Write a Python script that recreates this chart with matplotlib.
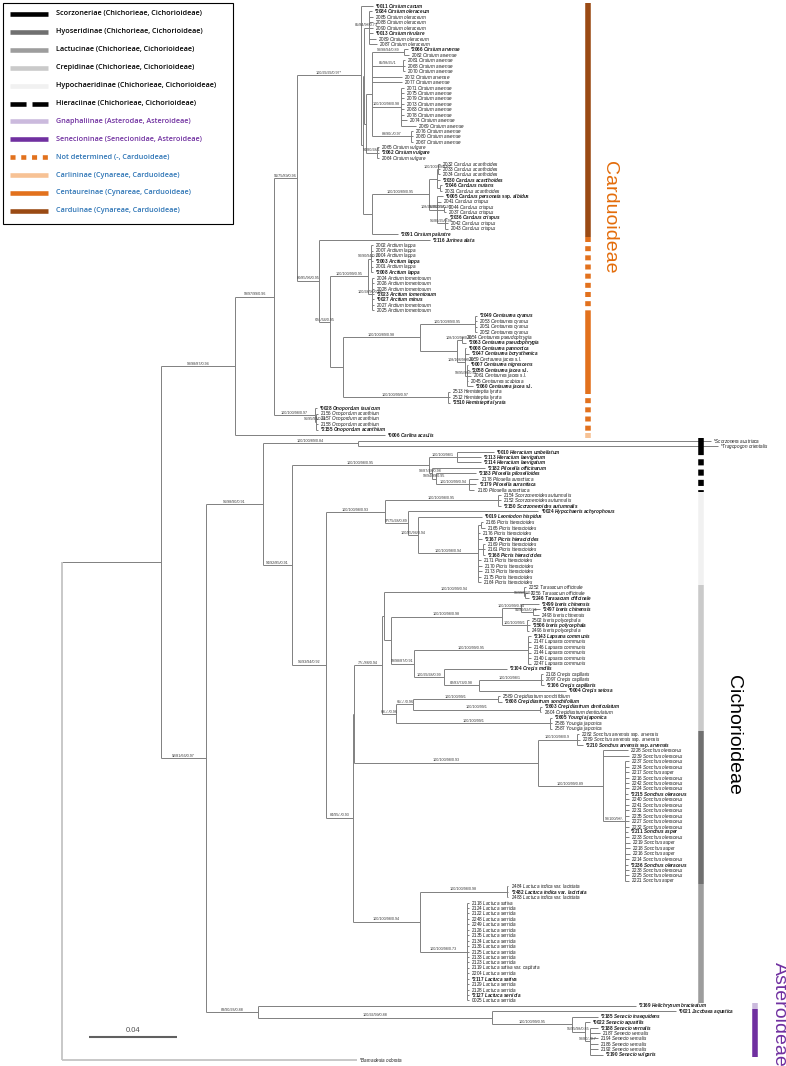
import re
import matplotlib
matplotlib.use("Agg")
import matplotlib.pyplot as plt
from matplotlib.collections import LineCollection
from matplotlib.lines import Line2D
from matplotlib.patches import Rectangle
from matplotlib.transforms import Affine2D, blended_transform_factory

plt.rcParams['font.family'] = ['Liberation Sans', 'DejaVu Sans']
plt.rcParams['mathtext.fontset'] = 'custom'
plt.rcParams['mathtext.rm'] = 'Liberation Sans'
plt.rcParams['mathtext.it'] = 'Liberation Sans:italic'
plt.rcParams['mathtext.bf'] = 'Liberation Sans:bold'
plt.rcParams['mathtext.bfit'] = 'Liberation Sans:italic:bold'

# ---------------------------------------------------------------- data
# branch lengths in substitutions/site, node labels = BS/BS/BS/PP
CARDUOIDEAE = """
(
 (
  (
   ('*0011 Cirsium canum':0.0054,
    (
     (
      ('*2084 Cirsium oleraceum':0.0014,'2085 Cirsium oleraceum':0.0018,'2088 Cirsium oleraceum':0.0018,
       '2090 Cirsium oleraceum':0.0018,'*0013 Cirsium rivulare':0.0018,'2089 Cirsium oleraceum':0.0032,
       '2087 Cirsium oleraceum':0.0036)'85/84/98/0.73':0.0023,
      (
       (
        ('*2066 Cirsium arvense':0.0018,'2082 Cirsium arvense':0.0023)'98/98/94/0.89':0.0145,
        ('2081 Cirsium arvense':0.0009,'2068 Cirsium arvense':0.0009,'2070 Cirsium arvense':0.0009)'85/98/95/1':0.0141,
        '2072 Cirsium arvense':0.0136,
        '2077 Cirsium arvense':0.0136,
        ('2071 Cirsium arvense':0.0014,'2075 Cirsium arvense':0.0014,'2079 Cirsium arvense':0.0014,
         '2073 Cirsium arvense':0.0014,'2083 Cirsium arvense':0.0014,'2078 Cirsium arvense':0.0014,
         '2074 Cirsium arvense':0.0027,'2069 Cirsium arvense':0.0068)'100/100/98/0.98':0.0132,
        ('2076 Cirsium arvense':0.0009,'2080 Cirsium arvense':0.0009,'2067 Cirsium arvense':0.0009)'89/90/-/0.97':0.0177
       ):0.0027,
       ('2065 Cirsium vulgare':0.0009,'*2062 Cirsium vulgare':0.0009,'2064 Cirsium vulgare':0.0009)'94/80/98/1':0.0050
      ):0.0009
     ):0.0005,
     (
      (
       (
        ('2032 Carduus acanthoides':0.0009,'2033 Carduus acanthoides':0.0009,'2034 Carduus acanthoides':0.0009)'100/100/89/0.97':0.0005,
        '*2030 Carduus acanthoides':0.0014,
        ('*2046 Carduus nutans':0.0009,'2031 Carduus acanthoides':0.0009):0.0014
       ):0.0036,
       (
        '*0005 Carduus personata ssp. albidus':0.0027,
        '2041 Carduus crispus':0.0018,
        ('2044 Carduus crispus':0.0009,'2037 Carduus crispus':0.0009)'96/80/95/0.96':0.0032,
        ('*2036 Carduus crispus':0.0009,'2042 Carduus crispus':0.0014,'2043 Carduus crispus':0.0014)'96/80/95/0.98':0.0036
       )'108/99/99/0.97':0.0036
      )'100/100/89/0.95':0.0259,
      '*2091 Cirsium palustre':0.0118
     ):0.0041
    ):0.0009
   )'100/99/99/0.97*':0.0290,
   ('*2116 Jurinea alata':0.0503,
    (
     (
      ('2002 Arctium lappa':0.0009,'2007 Arctium lappa':0.0009,'2004 Arctium lappa':0.0009,
       '*2003 Arctium lappa':0.0009,'2001 Arctium lappa':0.0009,'*2008 Arctium lappa':0.0009)'90/90/94/0.73':0.0014,
      ('2024 Arctium tomentosum':0.0009,'2026 Arctium tomentosum':0.0009,'2028 Arctium tomentosum':0.0009,
       '*2023 Arctium tomentosum':0.0009,'*0027 Arctium minus':0.0009,'2027 Arctium tomentosum':0.0009,
       '2025 Arctium tomentosum':0.0009)'100/98/96/0.86':0.0018
     )'100/100/99/0.95':0.0172,
     (
      (
       ('*2049 Centaurea cyanus':0.0009,'2053 Centaurea cyanus':0.0009,'2051 Centaurea cyanus':0.0009,
        '2052 Centaurea cyanus':0.0009)'100/100/89/0.95':0.0249,
       (
        ('2054 Centaurea pseudophrygia':0.0005,'*2063 Centaurea pseudophrygia':0.0018)'108/100/98/0.95':0.0023,
        ('*0008 Centaurea pannonica':0.0005,'*2047 Centaurea borysthenica':0.0018,'2059 Centaurea jacea s.l.':0.0002,
         ('*0007 Centaurea nigrescens':0.0005,'*2058 Centaurea jacea s.l.':0.0009,'2061 Centaurea jacea s.l.':0.0018,
          '2045 Centaurea scabiosa':0.0005,'*2060 Centaurea jacea s.l.':0.0027)'99/95/96/0.97':0.0009
        )'108/108/96/0.90':0.0036
       ):0.0168
      )'100/100/89/0.98':0.0349,
      ('2513 Hemisteptia lyrata':0.0009,'2512 Hemisteptia lyrata':0.0009,'*2510 Hemisteptia lyrata':0.0009)'100/100/99/0.97':0.0476
     ):0.0059
    )'62/-/64/0.95':0.0050
   )'80/85/96/0.95':0.0100
  )'91/75/89/0.96':0.0104,
  ('*0028 Onopordum tauricum':0.0009,
   ('2156 Onopordum acanthium':0.0009,'2157 Onopordum acanthium':0.0009,'2158 Onopordum acanthium':0.0009,
    '*2155 Onopordum acanthium':0.0009)'96/95/93/0.98':0.0005
  )'100/100/98/0.97':0.0186
 )'99/97/99/0.96':0.0177,
 '*0006 Carlina acaulis':0.0680
)'98/98/87/0.94':0.0336
"""

CICHORIOIDEAE = """
(
 ('*Scorzonera austriaca':0.1601,'*Tragopogon orientalis':0.1633)'100/100/89/0.84':0.0431,
 (
  (
   ('*0010 Hieracium umbellatum':0.0168,'*2113 Hieracium laevigatum':0.0109,'*2114 Hieracium laevigatum':0.0109)'100/100/98/1':0.0127,
   ('*2182 Pilosella officinarum':0.0240,
    ('*2183 Pilosella piloselloides':0.0180,
     ('2178 Pilosella aurantiaca':0.0041,'*2179 Pilosella aurantiaca':0.0032,'2180 Pilosella aurantiaca':0.0023)'100/100/99/0.94':0.0150
    )'99/94/99/0.95':0.0018
   )'98/87/98/0.98':0.0014
  )'100/100/98/0.95':0.0621,
  (
   (('2154 Scorzoneroides autumnalis':0.0014,'2152 Scorzoneroides autumnalis':0.0014,
     '*2150 Scorzoneroides autumnalis':0.0014)'100/100/98/0.95':0.0512,
    ('*0024 Hypochaeris achyrophorus':0.0590,
     ('*0019 Leontodon hispidus':0.0290,
      (('2166 Picris hieracioides':0.0009,'2165 Picris hieracioides':0.0018):0.0014,
       '2176 Picris hieracioides':0.0009,'*2167 Picris hieracioides':0.0018,
       ('2169 Picris hieracioides':0.0009,'2161 Picris hieracioides':0.0009,'*2168 Picris hieracioides':0.0009):0.0023,
       '2171 Picris hieracioides':0.0014,'2170 Picris hieracioides':0.0018,'2173 Picris hieracioides':0.0018,
       '2175 Picris hieracioides':0.0014,'2164 Picris hieracioides':0.0014)'100/100/98/0.94':0.0272
     )'100/85/94/0.94':0.0045
    )'97/75/98/0.89':0.0104
   )'100/100/98/0.93':0.0268,
   (
    (
     (
      (
       ('2252 Taraxacum officinale':0.0009,
        ('2256 Taraxacum officinale':0.0014,'*2246 Taraxacum officinale':0.0018)'99/99/96/0.9':0.0005
       )'100/100/99/0.94':0.0635,
       (
        (('*2499 Ixeris chinensis':0.0082,
          ('*2497 Ixeris chinensis':0.0032,'2498 Ixeris chinensis':0.0027)'91/90/92/0.94':0.0054)'100/100/99/0.94':0.0086,
         ('2502 Ixeris polycephala':0.0009,'*2506 Ixeris polycephala':0.0014,'2496 Ixeris polycephala':0.0009)'100/100/99/1':0.0113
        )'100/100/98/0.98':0.0503,
        (('*2143 Lapsana communis':0.0014,'2147 Lapsana communis':0.0014,'2146 Lapsana communis':0.0014,
          '2144 Lapsana communis':0.0014,'2140 Lapsana communis':0.0014,'2247 Lapsana communis':0.0014)'100/100/99/0.95':0.0517,
         ('*2104 Crepis mollis':0.0286,
          (('2103 Crepis capillaris':0.0009,'2097 Crepis capillaris':0.0009,'*2106 Crepis capillaris':0.0014)'100/100/98/1':0.0281,
           '*0004 Crepis setosa':0.0395)'82/83/74/0.98':0.0159
         )'100/99/98/0.99':0.0136
        )'99/98/87/0.91':0.0104
       ):0.0032
      ):0.0007,
      (
       (('2589 Crepidiastrum sonchifolium':0.0009,'*2608 Crepidiastrum sonchifolium':0.0018)'100/100/99/1':0.0385,
        ('*2603 Crepidiastrum denticulatum':0.0009,'2604 Crepidiastrum denticulatum':0.0005)'100/100/99/1':0.0576
       )'65/-/-/0.96':0.0077,
       ('*2605 Youngia japonica':0.0009,'2586 Youngia japonica':0.0009,'2587 Youngia japonica':0.0009)'100/100/99/1':0.0698
      )'69/-/-/0.96':0.0064
     )'77/-/88/0.94':0.0127,
     (
      ('2282 Sonchus arvensis ssp. arvensis':0.0009,'2289 Sonchus arvensis ssp. arvensis':0.0014,
       '*2210 Sonchus arvensis ssp. arvensis':0.0027)'100/100/98/0.9':0.0177,
      ('2228 Sonchus oleraceus':0.0113,'2239 Sonchus oleraceus':0.0118,
       ('2237 Sonchus oleraceus':0.0018,
        '2234 Sonchus oleraceus':0.0018,'2217 Sonchus asper':0.0018,'2216 Sonchus oleraceus':0.0018,
        '2242 Sonchus oleraceus':0.0018,'2224 Sonchus oleraceus':0.0018,'*2215 Sonchus oleraceus':0.0014,
        '2240 Sonchus oleraceus':0.0018,'2241 Sonchus oleraceus':0.0018,'2231 Sonchus oleraceus':0.0018,
        '2235 Sonchus oleraceus':0.0018,'2227 Sonchus oleraceus':0.0018,'2232 Sonchus oleraceus':0.0018,
        '*2211 Sonchus asper':0.0014,'2233 Sonchus oleraceus':0.0018,
        '2219 Sonchus asper':0.0023,'2218 Sonchus asper':0.0023,'2216 Sonchus asper':0.0023,
        '2214 Sonchus oleraceus':0.0018,'*2236 Sonchus oleraceus':0.0014,'2238 Sonchus oleraceus':0.0018,
        '2225 Sonchus oleraceus':0.0018,'2221 Sonchus asper':0.0018)'98/100/98/-':0.0100
      )'100/100/99/0.89':0.0295
     )'100/100/98/0.93':0.0834
    ):0.0005,
    (
     ('2484 Lactuca indica var. laciniata':0.0005,'*2482 Lactuca indica var. laciniata':0.0005,
      '2483 Lactuca indica var. laciniata':0.0005)'100/100/98/0.98':0.0395,
     ('2118 Lactuca sativa':0.0009,'2124 Lactuca serriola':0.0009,'2122 Lactuca serriola':0.0009,
      '2248 Lactuca serriola':0.0009,'2249 Lactuca serriola':0.0009,'2126 Lactuca serriola':0.0009,
      '2135 Lactuca serriola':0.0009,'2134 Lactuca serriola':0.0009,'2136 Lactuca serriola':0.0009,
      '2125 Lactuca serriola':0.0009,'2133 Lactuca serriola':0.0009,'2123 Lactuca serriola':0.0009,
      '2119 Lactuca sativa var. capitata':0.0009,'2204 Lactuca serriola':0.0009,'*2117 Lactuca sativa':0.0009,
      '2129 Lactuca serriola':0.0009,'2128 Lactuca serriola':0.0009,'*2127 Lactuca serriola':0.0009,
      '0025 Lactuca serriola':0.0009)'100/100/98/0.73':0.0213
    )'100/100/98/0.94':0.0304
   )'84/95/-/0.93':0.0122
  )'96/93/94/0.92':0.0154
 )'94/92/85/0.91':0.0132
)'96/98/90/0.91':0.0259
"""

ASTEROIDEAE = """
('*2169 Helichrysum bracteatum':0.1714,
 ('*0021 Jacobaea aquatica':0.0834,
  ('*2185 Senecio inaequidens':0.0118,
   ('*0022 Senecio aquatilis':0.0023,
    ('*2188 Senecio vernalis':0.0036,'2187 Senecio vernalis':0.0045,'2194 Senecio vernalis':0.0036,
     '2186 Senecio vernalis':0.0036,'2192 Senecio vernalis':0.0036,'*2190 Senecio vulgaris':0.0059)'98/80/-/0.7':0.0023
   )'95/95/98/0.85':0.0059
  )'100/100/99/0.95':0.0363
 )'100/92/99/0.88':0.1061
)'83/90/93/0.88':0.0236
"""

TREE = ("((" + CARDUOIDEAE + ",(" + CICHORIOIDEAE + "," + ASTEROIDEAE +
        ")'92/81/66/0.97':0.0204):0.0449,'*Barnadesia odorata':0.1338);")

# subtribe bars: (subtribe, first leaf, last leaf) in tree order
BAR_SPANS = [
    ("Carduinae", 0, 42), ("Not determined", 43, 56), ("Centaureinae", 57, 70),
    ("Not determined", 71, 78), ("Carlininae", 79, 79),
    ("Scorzoneriae", 80, 81), ("Hieraciinae", 82, 89), ("Hypochaeridinae", 90, 106),
    ("Crepidinae", 107, 133), ("Hyoseridinae", 134, 161), ("Lactucinae", 162, 183),
    ("Gnaphaliinae", 184, 184), ("Senecioninae", 185, 193),
]

LEGEND = [
    ("Scorzoneriae", "Chichorieae, Cichorioideae"),
    ("Hyoseridinae", "Chichorieae, Cichorioideae"),
    ("Lactucinae", "Chichorieae, Cichorioideae"),
    ("Crepidinae", "Chichorieae, Cichorioideae"),
    ("Hypochaeridinae", "Chichorieae, Cichorioideae"),
    ("Hieraciinae", "Chichorieae, Cichorioideae"),
    ("Gnaphaliinae", "Asterodae, Asteroideae"),
    ("Senecioninae", "Senecionidae, Asteroideae"),
    ("Not determined", "-, Carduoideae"),
    ("Carlininae", "Cynareae, Carduoideae"),
    ("Centaureinae", "Cynareae, Carduoideae"),
    ("Carduinae", "Cynareae, Carduoideae"),
]

# ---------------------------------------------------------------- styles
SUB_COLOR = {
    "Scorzoneriae": "#000000", "Hyoseridinae": "#707070", "Lactucinae": "#9d9d9d",
    "Crepidinae": "#cacaca", "Hypochaeridinae": "#f1f1f1", "Hieraciinae": "#000000",
    "Gnaphaliinae": "#cbbadd", "Senecioninae": "#7030a0", "Not determined": "#e2711d",
    "Carlininae": "#f7c295", "Centaureinae": "#e2711d", "Carduinae": "#9a4a14",
}
LEGEND_DASH = {"Hieraciinae": (0, (3.5, 1.3)), "Not determined": (0, (1.1, 1.25))}
BAR_DASH = {"Hieraciinae": (0, (1.1, 0.75)), "Not determined": (0, (0.9, 0.75))}
SUBFAMILY_COLOR = {"Cichorioideae": "black", "Asteroideae": "#7030a0", "Carduoideae": "#2e75b6"}
BAR_X = {"Carduoideae": 588, "Cichorioideae": 701, "Asteroideae": 755}
BIG_LABELS = [("Carduoideae", 609, 217, "#e36c0a"), ("Cichorioideae", 734, 735, "black"),
              ("Asteroideae", 779, 1014, "#7030a0")]

W, H = 786, 1066
X0, PX_PER_UNIT = 62, 2205.0          # root position / scale of the drawing
Y0, LEAF_STEP = 6.0, 5.434            # first tip row / tip spacing in pixels


def parse_newick(text):
    pos = 0

    def skip():
        nonlocal pos
        while pos < len(text) and text[pos].isspace():
            pos += 1

    def node():
        nonlocal pos
        skip()
        n = {"name": "", "length": 0.0, "children": []}
        if text[pos] == "(":
            pos += 1
            while True:
                n["children"].append(node())
                skip()
                ch = text[pos]
                pos += 1
                if ch == ")":
                    break
        skip()
        if text[pos] == "'":
            end = text.index("'", pos + 1)
            n["name"] = text[pos + 1:end]
            pos = end + 1
        skip()
        if text[pos] == ":":
            pos += 1
            m = re.match(r"[0-9.eE-]+", text[pos:])
            n["length"] = float(m.group())
            pos += m.end()
        return n

    return node()


def place(n, x_parent, leaves):
    n["px"] = x_parent
    n["x"] = x_parent + n["length"]
    for c in n["children"]:
        place(c, n["x"], leaves)
    if n["children"]:
        n["y"] = (n["children"][0]["y"] + n["children"][-1]["y"]) / 2
    else:
        n["y"] = len(leaves)
        leaves.append(n)


def leaf_text(name):
    bold = name.startswith("*") and name[1:2].isdigit()
    parts = name.split(" ")
    if parts[0].lstrip("*").isdigit():
        prefix, words = parts[0] + " ", parts[1:]
    else:
        prefix, words = "*", [parts[0].lstrip("*")] + parts[1:]
    cmd = r"\mathbfit" if bold else r"\mathit"
    out, run = prefix, []
    for w in words + [None]:
        if w is not None and w not in ("ssp.", "var.", "s.l."):
            run.append(w)
            continue
        if run:
            out += "$" + cmd + "{" + r"\ ".join(run) + "}$"
            run = []
        if w is not None:
            out += " " + w + " "
    return out.rstrip(), bold


tree = parse_newick(TREE)
leaves = []
place(tree, 0.0, leaves)

fig = plt.figure(figsize=(W / 100, H / 100), dpi=100)
ax = fig.add_axes([0, 0, 1, 1])
ax.axis("off")
ax.set_xlim(-X0 / PX_PER_UNIT, (W - X0) / PX_PER_UNIT)
ax.set_ylim((H - Y0) / LEAF_STEP, -Y0 / LEAF_STEP)
pix = Affine2D().scale(1 / W, -1 / H).translate(0, 1) + fig.transFigure

# branches
segs, light = [], []
stack = [tree]
while stack:
    n = stack.pop()
    if not n["children"]:
        continue
    kids = n["children"]
    target = light if n is tree else segs
    target.append([(n["x"], kids[0]["y"]), (n["x"], kids[-1]["y"])])
    for c in kids:
        outer = n is tree and not c["children"]
        (light if outer else segs).append([(n["x"], c["y"]), (c["x"], c["y"])])
        stack.append(c)
ax.add_collection(LineCollection(segs, colors="#808080", linewidths=0.7))
ax.add_collection(LineCollection(light, colors="#c4c4c4", linewidths=1.3))

# support values on branches
stack = [tree]
while stack:
    n = stack.pop()
    stack.extend(n["children"])
    if n["children"] and n["name"]:
        ax.annotate(n["name"], ((n["px"] + n["x"]) / 2, n["y"]), xytext=(0, 0.2),
                    textcoords="offset points", ha="center", va="bottom",
                    fontsize=2.7, color="#3a3a3a")

# tip labels
for lf in leaves:
    txt, bold = leaf_text(lf["name"])
    ax.annotate(txt, (lf["x"], lf["y"]), xytext=(1.6, 0), textcoords="offset points",
                ha="left", va="center", fontsize=3.3, color="#1a1a1a",
                fontweight="bold" if bold else "normal")

# subtribe bars
sub_family = {name: fam.split(", ")[1] for name, fam in LEGEND}
bar_tr = blended_transform_factory(fig.transFigure, ax.transData)
for sub, i0, i1 in BAR_SPANS:
    xf = BAR_X[sub_family[sub]] / W
    ax.plot([xf, xf], [i0 - 0.5, i1 + 0.5], transform=bar_tr, color=SUB_COLOR[sub], lw=4,
            solid_capstyle="butt", dash_capstyle="butt",
            linestyle=BAR_DASH.get(sub, "-"))

for text, x, y, col in BIG_LABELS:
    ax.text(x, y, text, transform=pix, rotation=270, ha="center", va="center",
            fontsize=14, color=col)

# scale bar
sb = blended_transform_factory(ax.transData, pix)
x_sb = (89 - X0) / PX_PER_UNIT
ax.plot([x_sb, x_sb + 0.04], [1036.7, 1036.7], transform=sb, color="#606060", lw=1.5,
        solid_capstyle="butt")
ax.text(x_sb + 0.02, 1030.5, "0.04", transform=sb, ha="center", va="center",
        fontsize=5.5, color="#505050")

# legend box
ax.add_patch(Rectangle((2.5, 2.5), 230, 221, transform=pix, facecolor="white",
                       edgecolor="black", lw=0.8, zorder=5))
for i, (sub, tribe) in enumerate(LEGEND):
    y = 14 + i * 17.9
    ax.add_line(Line2D([10, 48], [y, y], transform=pix, color=SUB_COLOR[sub], lw=3.3,
                       solid_capstyle="butt", dash_capstyle="butt",
                       linestyle=LEGEND_DASH.get(sub, "-"), zorder=6))
    fam = tribe.split(", ")[1]
    ax.text(56, y, f"{sub} ({tribe})", transform=pix, va="center", ha="left",
            fontsize=5.25, color=SUBFAMILY_COLOR[fam], zorder=6,
            family=["Open Sans", "DejaVu Sans"], fontweight="semibold")

fig.savefig("out.png", dpi=100)
